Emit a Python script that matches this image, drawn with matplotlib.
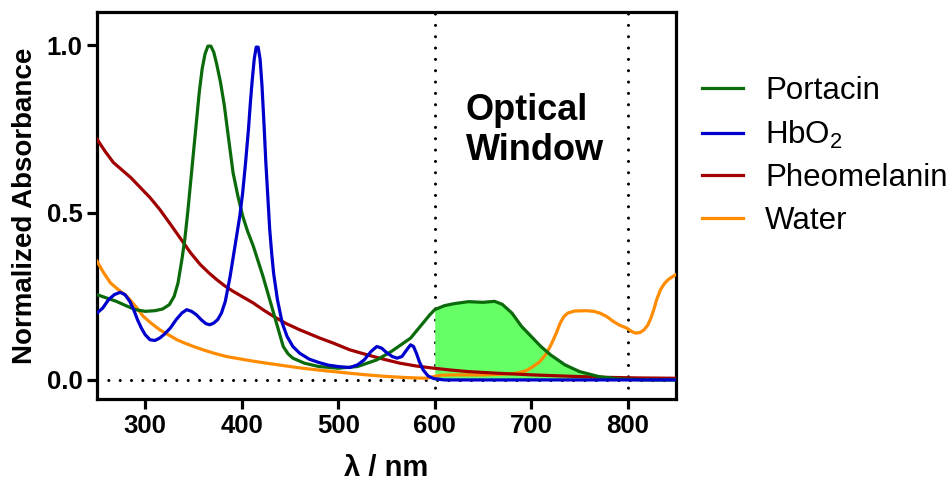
import numpy as np
import matplotlib
matplotlib.use('Agg')
import matplotlib.pyplot as plt

plt.rcParams['font.family'] = ['Liberation Sans', 'DejaVu Sans']
plt.rcParams['mathtext.fontset'] = 'custom'
plt.rcParams['mathtext.rm'] = 'Liberation Sans'
plt.rcParams['mathtext.default'] = 'regular'

# Portacin
por_x = [250, 260, 270, 280, 290, 300, 310, 318, 325, 330, 334, 338, 341, 344, 347, 350,
         353, 356, 359, 362, 365, 368, 371, 374, 378, 382, 386, 391, 396, 401, 406, 412,
         417, 422, 427, 433, 438, 443, 448, 453, 465, 480, 500, 520, 540, 555, 565, 575,
         585, 595, 600, 610, 620, 635, 650, 662, 670, 680, 690, 700, 710, 720, 735, 750,
         770, 790, 800, 820, 850]
por_y = [0.255, 0.245, 0.235, 0.222, 0.21, 0.205, 0.207, 0.212, 0.225, 0.25, 0.29, 0.36,
         0.42, 0.50, 0.59, 0.68, 0.77, 0.86, 0.93, 0.975, 0.998, 0.998, 0.98, 0.945, 0.89,
         0.82, 0.73, 0.62, 0.55, 0.49, 0.445, 0.40, 0.355, 0.31, 0.26, 0.20, 0.15, 0.10,
         0.078, 0.065, 0.05, 0.04, 0.035, 0.04, 0.06, 0.085, 0.105, 0.125, 0.16, 0.195,
         0.21, 0.222, 0.228, 0.234, 0.232, 0.235, 0.226, 0.2, 0.16, 0.13, 0.1, 0.075,
         0.045, 0.025, 0.01, 0.003, 0.002, 0.0, 0.0]

# HbO2
hb_x = [250, 256, 262, 268, 274, 279, 284, 288, 292, 296, 300, 305, 310, 315, 320, 326,
        332, 338, 343, 348, 353, 358, 363, 367, 371, 375, 379, 383, 388, 393, 398, 401,
        404, 407, 409, 411, 413, 415, 417, 419, 421, 423, 425, 427, 429, 431, 433, 435,
        437, 442, 447, 453, 460, 470, 480, 490, 500, 512, 520, 527, 534, 540, 545, 550,
        556, 561, 566, 571, 575, 578, 581, 584, 588, 593, 599, 610, 700, 850]
hb_y = [0.20, 0.215, 0.24, 0.255, 0.262, 0.255, 0.235, 0.21, 0.18, 0.155, 0.135, 0.12,
        0.118, 0.125, 0.137, 0.155, 0.18, 0.2, 0.21, 0.205, 0.195, 0.18, 0.168, 0.165,
        0.17, 0.18, 0.2, 0.235, 0.31, 0.40, 0.49, 0.56, 0.65, 0.75, 0.83, 0.9, 0.96,
        0.995, 0.995, 0.96, 0.88, 0.77, 0.65, 0.55, 0.45, 0.38, 0.32, 0.28, 0.24, 0.17,
        0.13, 0.10, 0.08, 0.062, 0.052, 0.044, 0.04, 0.037, 0.045, 0.06, 0.085, 0.1,
        0.095, 0.082, 0.07, 0.065, 0.07, 0.09, 0.105, 0.1, 0.08, 0.055, 0.03, 0.012,
        0.004, 0.0, 0.0, 0.0]

# Pheomelanin
ph_x = [250, 258, 267, 275, 285, 295, 305, 315, 325, 336, 347, 357, 366, 374, 383, 391,
        400, 412, 422, 433, 445, 460, 481, 495, 512, 530, 547, 564, 580, 599, 615, 634,
        665, 702, 740, 772, 810, 850]
ph_y = [0.72, 0.685, 0.65, 0.63, 0.605, 0.575, 0.545, 0.51, 0.47, 0.425, 0.38, 0.345,
        0.32, 0.30, 0.28, 0.265, 0.25, 0.23, 0.21, 0.19, 0.17, 0.15, 0.125, 0.11, 0.09,
        0.075, 0.062, 0.05, 0.042, 0.035, 0.03, 0.025, 0.02, 0.015, 0.011, 0.008, 0.006,
        0.005]

# Water
wa_x = [250, 257, 264, 272, 281, 290, 298, 306, 315, 324, 333, 341, 350, 360, 371, 384,
        398, 412, 426, 443, 460, 478, 495, 512, 530, 547, 564, 580, 592, 599, 606, 616,
        650, 670, 685, 695, 702, 709, 716, 721, 726, 730, 734, 738, 745, 757, 765, 771,
        778, 785, 792, 799, 804, 808, 813, 817, 821, 824, 827, 830, 834, 838, 842, 846,
        850]
wa_y = [0.355, 0.32, 0.29, 0.27, 0.25, 0.22, 0.19, 0.17, 0.15, 0.135, 0.12, 0.11, 0.10,
        0.09, 0.08, 0.07, 0.063, 0.056, 0.05, 0.043, 0.036, 0.03, 0.025, 0.02, 0.015,
        0.011, 0.008, 0.006, 0.005, 0.01, 0.014, 0.015, 0.015, 0.017, 0.02, 0.028, 0.04,
        0.055, 0.08, 0.108, 0.14, 0.17, 0.19, 0.2, 0.206, 0.207, 0.205, 0.2, 0.19, 0.175,
        0.163, 0.155, 0.145, 0.14, 0.142, 0.15, 0.165, 0.185, 0.21, 0.24, 0.27, 0.288,
        0.3, 0.308, 0.315]

fig = plt.figure(figsize=(9.47, 4.88), dpi=100)
ax = fig.add_axes([0.1024, 0.1824, 0.6114, 0.793])

lw = 2.3
dots = (0, (0.01, 3.7))
ax.plot([250, 850], [0, 0], color='black', lw=2.2, linestyle=dots,
        dash_capstyle='round', zorder=1)
for xv in [600, 800]:
    ax.axvline(xv, color='black', lw=2.2, linestyle=dots, dash_capstyle='round', zorder=1)

px = np.array(por_x)
py = np.array(por_y)
ax.fill_between(px, py, 0, where=(px >= 600) & (px <= 800), color='#66ff66', lw=0, zorder=2)

ax.plot(wa_x, wa_y, color='#ff8c00', lw=lw, label='Water', zorder=3)
ax.plot(ph_x, ph_y, color='#a00000', lw=lw, label='Pheomelanin', zorder=4)
ax.plot(por_x, por_y, color='#0b6b0b', lw=lw, label='Portacin', zorder=5)
ax.plot(hb_x, hb_y, color='#0000cc', lw=lw, label='HbO$_2$', zorder=6)

ax.text(632, 0.745, 'Optical\nWindow', fontsize=26, fontweight='bold',
        ha='left', va='center', linespacing=1.2)

ax.set_xlim(250, 850)
ax.set_ylim(-0.057, 1.10)
ax.set_xticks([300, 400, 500, 600, 700, 800])
ax.set_yticks([0.0, 0.5, 1.0])
ax.set_yticklabels(['0.0', '0.5', '1.0'])
ax.tick_params(direction='out', length=7, width=2.3, labelsize=18.5, top=False, right=False)
for lab in ax.get_xticklabels() + ax.get_yticklabels():
    lab.set_fontweight('bold')
for sp in ax.spines.values():
    sp.set_linewidth(2.3)

ax.set_xlabel('λ / nm', fontsize=21, fontweight='bold', labelpad=12)
ax.set_ylabel('Normalized Absorbance', fontsize=20, fontweight='bold', labelpad=6)

h, l = ax.get_legend_handles_labels()
order = [2, 3, 1, 0]
fig.legend([h[i] for i in order], [l[i] for i in order], loc='upper left',
           bbox_to_anchor=(0.728, 0.87), frameon=False, fontsize=22.5,
           handlelength=1.3, handletextpad=0.72, labelspacing=0.4, borderaxespad=0)

fig.savefig('out.png', dpi=100)
